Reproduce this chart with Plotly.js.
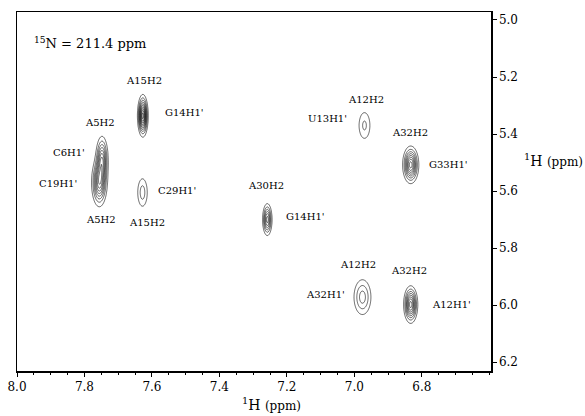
<!DOCTYPE html>
<html><head><meta charset="utf-8">
<script src="https://cdn.plot.ly/plotly-3.0.1.min.js"></script>
<style>body{margin:0;background:#fff}#plot{width:585px;height:416px}</style>
</head><body><div id="plot"></div>
<script>
// Cross peaks (1H ppm, 1H ppm), outer contour half-widths, contour count
const peakNames = ["A15H2/G14H1'", "A5H2/C6H1'", "A5H2/C19H1'", "A15H2/C29H1'", "A30H2/G14H1'", "A12H2/U13H1'", "A32H2/G33H1'", "A12H2/A32H1'", "A32H2/A12H1'"];
const peakX   = [7.627, 7.748, 7.756, 7.628, 7.258, 6.970, 6.833, 6.976, 6.833];
const peakY   = [5.336, 5.490, 5.570, 5.605, 5.700, 5.370, 5.508, 5.972, 5.998];
const peakHX  = [0.016, 0.018, 0.023, 0.014, 0.014, 0.016, 0.024, 0.025, 0.021];
const peakHY  = [0.075, 0.082, 0.085, 0.048, 0.056, 0.045, 0.066, 0.061, 0.066];
const peakAmp = [10.5, 6.5, 7.5, 2.5, 6.5, 2.2, 8.5, 3.5, 8.5];

const labelText = ["A15H2","G14H1'","A5H2","C6H1'","C19H1'","C29H1'","A30H2","A5H2","A15H2","G14H1'","A12H2","U13H1'","A32H2","G33H1'","A12H2","A32H2","A32H1'","A12H1'"];
const labelX = [7.624,7.505,7.754,7.847,7.879,7.526,7.262,7.751,7.615,7.145,6.967,7.081,6.834,6.722,6.988,6.837,7.086,6.713];
const labelY = [5.212,5.324,5.358,5.463,5.574,5.598,5.580,5.700,5.710,5.689,5.278,5.344,5.393,5.508,5.859,5.877,5.963,5.998];

const xTicks = [8.0, 7.8, 7.6, 7.4, 7.2, 7.0, 6.8];
const yTicks = [5.0, 5.2, 5.4, 5.6, 5.8, 6.0, 6.2];

// grid for contouring
const gx = [], gy = [];
for (let v = 6.59; v <= 8.01; v += 0.0025) gx.push(v);
for (let v = 4.96; v <= 6.24; v += 0.0025) gy.push(v);
const sx = peakHX.map((h,i)=>h/Math.sqrt(2*Math.log(peakAmp[i])));
const sy = peakHY.map((h,i)=>h/Math.sqrt(2*Math.log(peakAmp[i])));
const z = gy.map(y => gx.map(x => {
  let s = 0;
  for (let i = 0; i < peakX.length; i++) {
    const dx = (x-peakX[i])/sx[i], dy = (y-peakY[i])/sy[i];
    const q = dx*dx+dy*dy;
    if (q < 40) s += peakAmp[i]*Math.exp(-0.5*q);
  }
  return s;
}));

const serif = "DejaVu Serif";
const L=17, R=94, T=12, B=45, W=585, H=416;
const pw = W-L-R, ph = H-T-B;
const annotations = labelText.map((t,i)=>({x:labelX[i], y:labelY[i], xref:'x', yref:'y', text:t, showarrow:false, font:{family:serif, size:10, color:'#000'}}));
annotations.push({x:7.956, y:5.08, xref:'x', yref:'y', xanchor:'left', text:'<sup>15</sup>N = 211.4 ppm', showarrow:false, font:{family:serif, size:13, color:'#000'}});
annotations.push({x:(240-L)/pw, y:1-(404-T)/ph, xanchor:'left', yanchor:'middle', xref:'paper', yref:'paper', text:'<sup>1</sup>H <span style="font-size:12px">(ppm)</span>', showarrow:false, font:{family:serif, size:14, color:'#000'}});
annotations.push({x:(522-L)/pw, y:1-(160-T)/ph, xanchor:'left', yanchor:'middle', xref:'paper', yref:'paper', text:'<sup>1</sup>H <span style="font-size:12px">(ppm)</span>', showarrow:false, font:{family:serif, size:14, color:'#000'}});

const trace = {type:'contour', x:gx, y:gy, z:z, showscale:false, hoverinfo:'skip',
  contours:{start:1, end:12, size:1, coloring:'none'},
  line:{color:'#000', width:0.6, smoothing:1}};

const layout = {
  width:W, height:H, margin:{l:L, r:R, t:T, b:B}, paper_bgcolor:'#fff', plot_bgcolor:'#fff',
  showlegend:false, font:{family:serif, color:'#000'},
  xaxis:{range:[8.0, 6.595], tickvals:xTicks, ticktext:xTicks.map(v=>v.toFixed(1)), ticks:'outside', ticklen:4, tickcolor:'#000',
    showline:true, linecolor:'#000', linewidth:1.5, mirror:true, showgrid:false, zeroline:false, tickfont:{family:serif,size:12},
    minor:{ticks:'outside', ticklen:2, dtick:0.05, tickcolor:'#000', showgrid:false}},
  yaxis:{range:[6.231, 4.972], side:'right', tickvals:yTicks, ticktext:yTicks.map(v=>v.toFixed(1)), ticks:'outside', ticklen:4, tickcolor:'#000',
    showline:true, linecolor:'#000', linewidth:1.5, mirror:true, showgrid:false, zeroline:false, tickfont:{family:serif,size:12}},
  annotations: annotations
};
Plotly.newPlot('plot', [trace], layout, {staticPlot:true});
</script></body></html>
